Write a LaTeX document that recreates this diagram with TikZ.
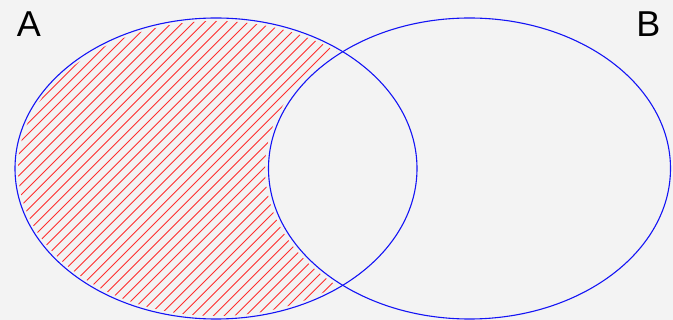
\documentclass[tikz,border=0pt]{standalone}
\usepackage{fontspec}
\setmainfont{Liberation Sans}
\usetikzlibrary{positioning}
\definecolor{setline}{RGB}{20,20,245}
\definecolor{hatchred}{RGB}{255,45,45}
\definecolor{paper}{RGB}{243,243,243}

\begin{document}
\begin{tikzpicture}[x=1pt, y=-1pt,
    every node/.style={font=\fontsize{36}{40}\selectfont},
    setA/.style={draw=setline, line width=1.1pt},
    hatch/.style={hatchred, line width=0.9pt}]
  % canvas, same size as the reference
  \fill[paper] (0,0) rectangle (673,320);
  \useasboundingbox (0,0) rectangle (673,320);
  % A without B: diagonal hatching, kept a little inside the outlines
  \begin{scope}
    \clip (216,168.5) ellipse [x radius=198, y radius=147.5];
    \begin{scope}[even odd rule]
      \clip (469.5,168.5) ellipse [x radius=204.5, y radius=154]
        (-10,-10) rectangle (700,340);
      \foreach \x in {-330,-319.2,...,430} {
        \draw[hatch] (\x,330) -- ++(340,-340);
      }
    \end{scope}
  \end{scope}
  % the two sets
  \draw[setA] (216,168.5) ellipse [x radius=201, y radius=150.5];
  \draw[setA] (469.5,168.5) ellipse [x radius=201, y radius=150.5];
  % set names
  \node (labA) at (29,24) {A};
  \node (labB) at (648.5,24) {B};
\end{tikzpicture}
\end{document}
